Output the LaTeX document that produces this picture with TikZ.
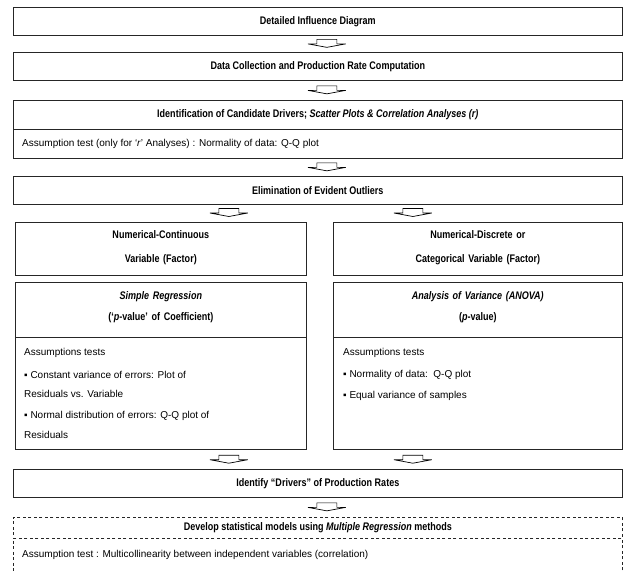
\documentclass[tikz,border=0pt]{standalone}
\usepackage{fontspec}
\setmainfont{Liberation Sans}
\newfontfamily\headfont[FakeStretch=0.82,Ligatures=TeX]{Liberation Sans}
\usetikzlibrary{calc}
\tikzset{
  box/.style={draw=black!85, line width=0.7pt, fill=white, inner sep=0pt, anchor=north west},
  dbox/.style={box, dashed, dash pattern=on 3pt off 2.5pt},
  head/.style={font=\headfont\bfseries\fontsize{11}{13}\selectfont, align=center},
  head2/.style={head, anchor=north, text width=280pt, inner sep=0pt},
  bodytxt/.style={font=\fontsize{10}{12}\selectfont, anchor=west, align=left, inner sep=0pt},
  darrow/.pic={\draw[line width=0.7pt, fill=white, line join=miter]
     (-10,-4.5) -- (10,-4.5) -- (10,0) -- (19,0) -- (0,3.5) -- (-19,0) -- (-10,0) -- cycle;}
}
\begin{document}
\begin{tikzpicture}[x=1pt,y=-1pt]
\useasboundingbox (0,0) rectangle (627,573);
\clip (0,0) rectangle (627,573);
% box 1
\node[box, minimum width=609pt, minimum height=28pt] (b1) at (13,7) {};
\node[head] (t1) at (b1.center) {Detailed Influence Diagram};
% box 2
\node[box, minimum width=609pt, minimum height=28pt] (b2) at (13,52) {};
\node[head] (t2) at (b2.center) {Data Collection and Production Rate Computation};
% box 3
\node[box, minimum width=609pt, minimum height=29pt] (b3) at (13,100) {};
\node[head] (t3) at (b3.center) {Identification of Candidate Drivers; \textit{Scatter Plots \& Correlation Analyses (r)}};
\node[box, minimum width=609pt, minimum height=29pt] (b3b) at (13,129) {};
\node[bodytxt] (t3b) at ([xshift=9pt]b3b.west) {Assumption test (only for ‘\textit{r}’ Analyses) : Normality of data: Q-Q plot};
% box 4
\node[box, minimum width=609pt, minimum height=28pt] (b4) at (13,176) {};
\node[head] (t4) at (b4.center) {Elimination of Evident Outliers};
% box 5
\node[box, minimum width=291pt, minimum height=53pt] (b5l) at (15,222) {};
\node[head2] (t5l) at ([yshift=-8pt]b5l.north) {Numerical-Continuous\\[11pt]Variable (Factor)};
\node[box, minimum width=289pt, minimum height=53pt] (b5r) at (333,222) {};
\node[head2] (t5r) at ([yshift=-8pt]b5r.north) {Numerical-Discrete or\\[11pt]Categorical Variable (Factor)};
% box 6
\node[box, minimum width=291pt, minimum height=55pt] (b6l) at (15,282) {};
\node[head2] (t6l) at ([yshift=-9pt]b6l.north) {\textit{Simple Regression}\\[8pt](‘\textit{p}-value’ of Coefficient)};
\node[box, minimum width=291pt, minimum height=112pt] (b6lb) at (15,337) {};
\node[box, minimum width=289pt, minimum height=55pt] (b6r) at (333,282) {};
\node[head2] (t6r) at ([yshift=-9pt]b6r.north) {\textit{Analysis of Variance (ANOVA)}\\[8pt](\textit{p}-value)};
\node[box, minimum width=289pt, minimum height=112pt] (b6rb) at (333,337) {};
\node[bodytxt] (l1) at (24,353) {Assumptions tests};
\node[bodytxt] (l2) at (24,375) {▪ Constant variance of errors: Plot of};
\node[bodytxt] (l3) at (24,394) {Residuals vs. Variable};
\node[bodytxt] (l4) at (24,416) {▪ Normal distribution of errors: Q-Q plot of};
\node[bodytxt] (l5) at (24,435) {Residuals};
\node[bodytxt] (r1) at (343,353) {Assumptions tests};
\node[bodytxt] (r2) at (343,375) {▪ Normality of data:\ \ Q-Q plot};
\node[bodytxt] (r3) at (343,396) {▪ Equal variance of samples};
% box 7
\node[box, minimum width=609pt, minimum height=28pt] (b7) at (13,469) {};
\node[head] (t7) at (b7.center) {Identify “Drivers” of Production Rates};
% box 8
\node[dbox, minimum width=609pt, minimum height=21pt] (b8) at (13,517) {};
\node[head] (t8) at (b8.center) {Develop statistical models using \textit{Multiple Regression} methods};
\node[dbox, minimum width=609pt, minimum height=50pt] (b8b) at (13,538) {};
\node[bodytxt] (t8b) at (22,555) {Assumption test : Multicollinearity between independent variables (correlation)};
% arrows
\path ($(b1.south)!0.5!(b2.north)+(9,0)$) pic {darrow};
\path ($(b2.south)!0.5!(b3.north)+(9,0)$) pic {darrow};
\path ($(b3b.south)!0.5!(b4.north)+(9,0)$) pic {darrow};
\path ($(b5l.north)+(68,-9)$) pic {darrow};
\path ($(b5r.north)+(-65,-9)$) pic {darrow};
\path ($(b6lb.south)+(68,10)$) pic {darrow};
\path ($(b6rb.south)+(-65,10)$) pic {darrow};
\path ($(b7.south)!0.5!(b8.north)+(9,0)$) pic {darrow};
\end{tikzpicture}
\end{document}
